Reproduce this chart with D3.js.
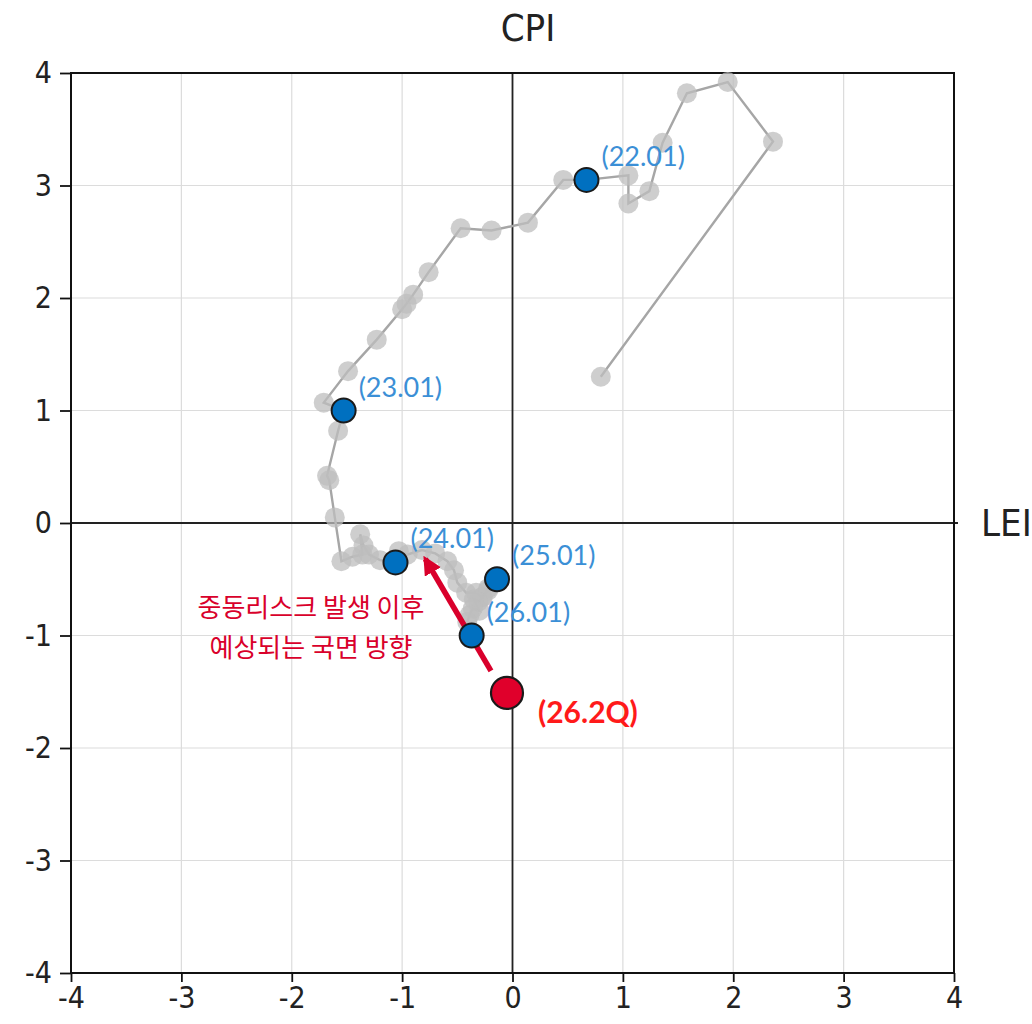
<!DOCTYPE html>
<html>
<head>
<meta charset="utf-8">
<script src="https://cdn.jsdelivr.net/npm/d3@7"></script>
<style>
  body { margin: 0; background: #fff; }
  text { font-family: "DejaVu Sans Condensed", "Liberation Sans Narrow", "DejaVu Sans", sans-serif; }
  .lbl { font-family: "Lato", "Noto Sans", sans-serif; }
  .kr { font-family: "Noto Sans CJK KR", "Noto Sans", sans-serif; }
</style>
</head>
<body>
<div id="chart"></div>
<script>
// LEI (x) / CPI (y) monthly path, oldest first
var lei = [0.80, 2.36, 1.95, 1.58, 1.36, 1.24, 1.05, 1.05,
  0.67, 0.46, 0.14, -0.19, -0.47, -0.76, -0.90, -0.96, -1.00, -1.23, -1.49, -1.71,
  -1.53, -1.58, -1.68, -1.66, -1.61, -1.55, -1.45, -1.36, -1.38, -1.35, -1.30, -1.20,
  -1.06, -1.03, -0.95, -0.82, -0.70, -0.59, -0.53, -0.50, -0.42, -0.33, -0.28, -0.22,
  -0.14, -0.22, -0.27, -0.31, -0.35, -0.30, -0.36, -0.39, -0.41, -0.37];
var cpi = [1.30, 3.39, 3.92, 3.82, 3.38, 2.95, 2.84, 3.09,
  3.05, 3.05, 2.67, 2.60, 2.62, 2.23, 2.03, 1.95, 1.90, 1.63, 1.35, 1.07,
  1.00, 0.82, 0.42, 0.38, 0.05, -0.34, -0.30, -0.28, -0.10, -0.20, -0.28, -0.33,
  -0.35, -0.25, -0.28, -0.24, -0.27, -0.34, -0.42, -0.53, -0.62, -0.62, -0.66, -0.58,
  -0.50, -0.60, -0.66, -0.70, -0.68, -0.78, -0.76, -0.82, -0.88, -1.00];

// highlighted January points
var keyLabels = ["(22.01)", "(23.01)", "(24.01)", "(25.01)", "(26.01)"];
var keyIndex = [8, 20, 32, 44, 53];

// forecast point
var forecastLabel = "(26.2Q)";
var forecastLei = -0.05;
var forecastCpi = -1.51;
// arrow target (expected direction)
var arrowLei = -0.79;
var arrowCpi = -0.32;
var noteLines = ["중동리스크 발생 이후", "예상되는 국면 방향"];

var ticks = [-4, -3, -2, -1, 0, 1, 2, 3, 4];

var svgWidth = 1032;
var svgHeight = 1024;
var margin = { top: 73, right: 78, bottom: 51, left: 71 };
var width = svgWidth - margin.left - margin.right;
var height = svgHeight - margin.top - margin.bottom;

var svg = d3.select("#chart")
  .append("svg")
  .attr("width", svgWidth)
  .attr("height", svgHeight);

var defs = svg.append("defs");
defs.append("marker")
  .attr("id", "head")
  .attr("viewBox", "0 0 10 10")
  .attr("refX", 8)
  .attr("refY", 5)
  .attr("markerWidth", 3.4)
  .attr("markerHeight", 3.4)
  .attr("orient", "auto")
  .append("path")
  .attr("d", "M0,0 L10,5 L0,10 Z")
  .attr("fill", "#d9002b");

var chartGroup = svg.append("g")
  .attr("transform", `translate(${margin.left}, ${margin.top})`);

var x = d3.scaleLinear().domain([-4, 4]).range([0, width]);
var y = d3.scaleLinear().domain([-4, 4]).range([height, 0]);

// grid
chartGroup.append("g")
  .selectAll("line")
  .data(ticks)
  .enter()
  .append("line")
  .attr("x1", d => x(d)).attr("x2", d => x(d))
  .attr("y1", 0).attr("y2", height)
  .attr("stroke", "#dcdcdc").attr("stroke-width", 1.2);
chartGroup.append("g")
  .selectAll("line")
  .data(ticks)
  .enter()
  .append("line")
  .attr("y1", d => y(d)).attr("y2", d => y(d))
  .attr("x1", 0).attr("x2", width)
  .attr("stroke", "#dcdcdc").attr("stroke-width", 1.2);

// zero lines
chartGroup.append("line")
  .attr("x1", x(0)).attr("x2", x(0)).attr("y1", 0).attr("y2", height)
  .attr("stroke", "#222").attr("stroke-width", 1.8);
chartGroup.append("line")
  .attr("x1", 0).attr("x2", width + 4).attr("y1", y(0)).attr("y2", y(0))
  .attr("stroke", "#222").attr("stroke-width", 1.8);

// frame
chartGroup.append("rect")
  .attr("width", width).attr("height", height)
  .attr("fill", "none").attr("stroke", "#111").attr("stroke-width", 2);

// axes
var fmt = d => d < 0 ? "-" + Math.abs(d) : d;
var bottomAxis = d3.axisBottom(x).tickValues(ticks).tickSize(9).tickPadding(5).tickFormat(fmt);
var leftAxis = d3.axisLeft(y).tickValues(ticks).tickSize(11).tickPadding(8).tickFormat(fmt);

var xAxis = chartGroup.append("g")
  .attr("transform", `translate(0, ${height})`)
  .call(bottomAxis);
var yAxis = chartGroup.append("g").call(leftAxis);

[xAxis, yAxis].forEach(function(a) {
  a.attr("font-size", null).attr("font-family", null);
  a.select(".domain").remove();
  a.selectAll(".tick line").attr("stroke", "#111").attr("stroke-width", 1.8);
  a.selectAll(".tick text").attr("fill", "#222").style("font-size", "30px");
});

// axis titles
svg.append("text")
  .attr("x", 528).attr("y", 41)
  .attr("text-anchor", "middle")
  .style("font-size", "38px").attr("fill", "#222")
  .text("CPI");
svg.append("text")
  .attr("x", 981).attr("y", 536)
  .style("font-size", "38px").attr("fill", "#222")
  .text("LEI");

// path
var pts = lei.map((v, i) => [v, cpi[i]]);
chartGroup.append("path")
  .datum(pts)
  .attr("fill", "none")
  .attr("stroke", "#a6a6a6")
  .attr("stroke-width", 2.4)
  .attr("d", d3.line().x(d => x(d[0])).y(d => y(d[1])));

chartGroup.append("g")
  .selectAll("circle")
  .data(pts)
  .enter()
  .append("circle")
  .attr("cx", d => x(d[0]))
  .attr("cy", d => y(d[1]))
  .attr("r", 10)
  .attr("fill", "#bdbdbd")
  .attr("opacity", 0.75);

// arrow
chartGroup.append("line")
  .attr("x1", x(forecastLei) - 16).attr("y1", y(forecastCpi) - 22)
  .attr("x2", x(arrowLei)).attr("y2", y(arrowCpi))
  .attr("stroke", "#d9002b")
  .attr("stroke-width", 5.5)
  .attr("marker-end", "url(#head)");

// key points
var keyGroup = chartGroup.append("g");
keyGroup.selectAll("circle")
  .data(keyIndex)
  .enter()
  .append("circle")
  .attr("cx", i => x(lei[i]))
  .attr("cy", i => y(cpi[i]))
  .attr("r", 12)
  .attr("fill", "#0070c0")
  .attr("stroke", "#1a1a1a")
  .attr("stroke-width", 2);
keyGroup.selectAll("text")
  .data(keyIndex)
  .enter()
  .append("text")
  .attr("class", "lbl")
  .attr("x", i => x(lei[i]) + 15)
  .attr("y", i => y(cpi[i]) - 14)
  .attr("fill", "#3b8fd6")
  .style("font-size", "27px")
  .text((i, k) => keyLabels[k]);

// forecast point
chartGroup.append("circle")
  .attr("cx", x(forecastLei))
  .attr("cy", y(forecastCpi))
  .attr("r", 16)
  .attr("fill", "#e0002b")
  .attr("stroke", "#1a1a1a")
  .attr("stroke-width", 2.2);
chartGroup.append("text")
  .attr("class", "lbl")
  .attr("x", x(forecastLei) + 31)
  .attr("y", y(forecastCpi) + 30)
  .attr("fill", "#ff1a1a")
  .style("font-size", "30px")
  .style("font-weight", "bold")
  .text(forecastLabel);

// note
chartGroup.append("text")
  .attr("class", "kr")
  .attr("text-anchor", "middle")
  .attr("fill", "#d9002b")
  .style("font-size", "26px")
  .selectAll("tspan")
  .data(noteLines)
  .enter()
  .append("tspan")
  .attr("x", 311 - margin.left)
  .attr("y", (d, i) => 617 - margin.top + i * 40)
  .text(d => d);
</script>
</body>
</html>
